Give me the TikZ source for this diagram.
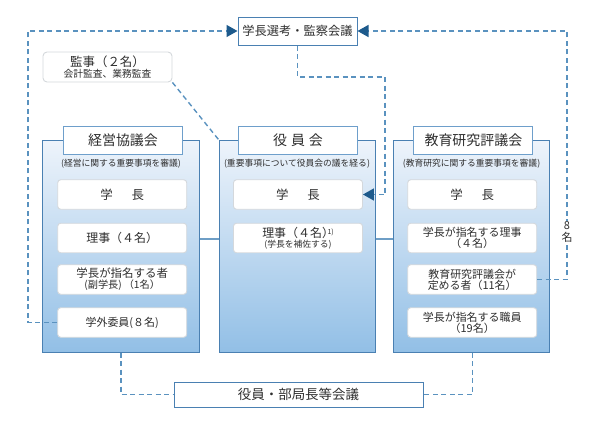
\documentclass[tikz,border=0pt]{standalone}
\usepackage{fontspec}
\setmainfont{Noto Sans CJK JP}
\usetikzlibrary{arrows.meta}
\definecolor{paneltop}{HTML}{EEF4FB}
\definecolor{panelbot}{HTML}{92BFE6}
\definecolor{panelborder}{HTML}{4A80B2}
\definecolor{titleborder}{HTML}{6E9FCB}
\definecolor{inborder}{HTML}{D4D8DC}
\definecolor{dashcol}{HTML}{5A92BF}
\definecolor{arrowcol}{HTML}{1D5A8C}
\definecolor{conncol}{HTML}{6E9EC6}
\definecolor{txt}{HTML}{2E2E2E}
\newcommand\fsz[2]{\fontsize{#1}{#2}\selectfont}
\begin{document}
\begin{tikzpicture}[x=1bp,y=-1bp,
  every node/.style={text=txt},
  panel/.style={draw=panelborder, line width=1bp, top color=paneltop, bottom color=panelbot, minimum width=156bp, minimum height=212bp, inner sep=0pt},
  ttl/.style={draw=titleborder, fill=white, line width=1bp, minimum width=119bp, minimum height=28bp, inner sep=0pt, font=\fsz{14}{16}},
  subt/.style={font=\fsz{8.8}{10}, inner sep=0pt},
  inbox/.style={draw=inborder, fill=white, line width=0.9bp, rounded corners=3bp, minimum width=129bp, minimum height=29.5bp, inner sep=0pt, align=center},
  dline/.style={draw=dashcol, line width=1.4bp, dash pattern=on 5bp off 3.5bp},
  arrtip/.style={-{Triangle[length=11bp,width=12bp,color=arrowcol]}},
  conn/.style={draw=conncol, line width=2bp}
]
\useasboundingbox (0,0) rectangle (595,421);

% top box and kansa
\node[draw=panelborder, fill=white, line width=1bp, minimum width=119bp, minimum height=28bp, inner sep=0pt, font=\fsz{12.3}{14}] (top) at (297.5,31) {学長選考・監察会議};
\node[draw=inborder, fill=white, line width=0.9bp, rounded corners=4bp, minimum width=129bp, minimum height=30bp, inner sep=0pt, align=center] (kan) at (107.5,67)
  {{\fsz{12.5}{12}監事（２名）}\\[-1bp]{\fsz{9.8}{10}会計監査、業務監査}};

% panels
\node[panel] (PL) at (121,246) {};
\node[panel] (PM) at (297,246) {};
\node[panel] (PR) at (471.5,246) {};

% connectors between panels
\draw[conn] (PL.east |- 0,239) -- (PM.west |- 0,239);
\draw[conn] (PM.east |- 0,239) -- (PR.west |- 0,239);

% titles
\node[ttl] (TL) at (123,140) {経営協議会};
\node[ttl] (TM) at (298,140) {役\hspace{4bp}員\hspace{4bp}会};
\node[ttl] (TR) at (473.4,140) {教育研究評議会};

% subtitles
\node[subt] (SL) at (121,164) {(経営に関する重要事項を審議)};
\node[subt] (SM) at (297,164) {(重要事項について役員会の議を経る)};
\node[subt] (SR) at (471.5,164) {(教育研究に関する重要事項を審議)};

% left inner boxes
\node[inbox, font=\fsz{12.5}{14}] (L1) at (122.2,194.5) {学\hspace{1.5em}長};
\node[inbox, font=\fsz{12}{14}] (L2) at (122.2,238) {理事（４名）};
\node[inbox] (L3) at (122.2,279.5) {{\fsz{11.5}{13}学長が指名する者}\\[-1bp]{\fsz{10.2}{11}(副学長)\hspace{2bp}（1名）}};
\node[inbox, font=\fsz{11}{13}] (L4) at (122.2,322.5) {学外委員(８名)};

% middle inner boxes
\node[inbox, font=\fsz{12.5}{14}] (M1) at (298,194.5) {学\hspace{1.5em}長};
\node[inbox] (M2) at (298,238) {{\fsz{12}{12}理事（４名）\kern-6.5bp\raisebox{3bp}{\fsz{7}{8}1)}}\\[-1.5bp]{\fsz{8.8}{9}(学長を補佐する)}};

% right inner boxes
\node[inbox, font=\fsz{12.5}{14}] (R1) at (472.2,194.5) {学\hspace{1.5em}長};
\node[inbox] (R2) at (472.2,238) {{\fsz{11}{13}学長が指名する理事}\\[-1bp]{\fsz{11}{12}（４名）}};
\node[inbox] (R3) at (472.2,279.5) {{\fsz{11}{13}教育研究評議会が}\\[-1bp]{\fsz{11}{12}定める者（11名）}};
\node[inbox] (R4) at (472.2,322.5) {{\fsz{11}{13}学長が指名する職員}\\[-1bp]{\fsz{11}{12}（19名）}};

% bottom box
\node[draw=panelborder, fill=white, line width=1bp, minimum width=249bp, minimum height=25bp, inner sep=0pt, font=\fsz{13.5}{15}] (bot) at (298.5,394.5) {役員・部局長等会議};

% dashed connections
\coordinate (c1) at (385,77);
\coordinate (c2) at (28,31);
\coordinate (c3) at (567,31);
\draw[dline, arrtip] (top.south) |- (c1) |- (M1.east);
\draw[dline, arrtip] (L4.west) -| (c2) -- (top.west);
\draw[dline, arrtip] (R3.east) -| (c3) -- (top.east);
\draw[dline] (kan.south east) -- (PM.north west);
\draw[dline] (PL.south) |- (bot.west);
\draw[dline] (R4.south |- PR.south) |- (bot.east);

\node[fill=white, inner sep=1bp, align=center, font=\fsz{11}{12}] (n8) at (567,232) {8\\名};
\end{tikzpicture}
\end{document}
